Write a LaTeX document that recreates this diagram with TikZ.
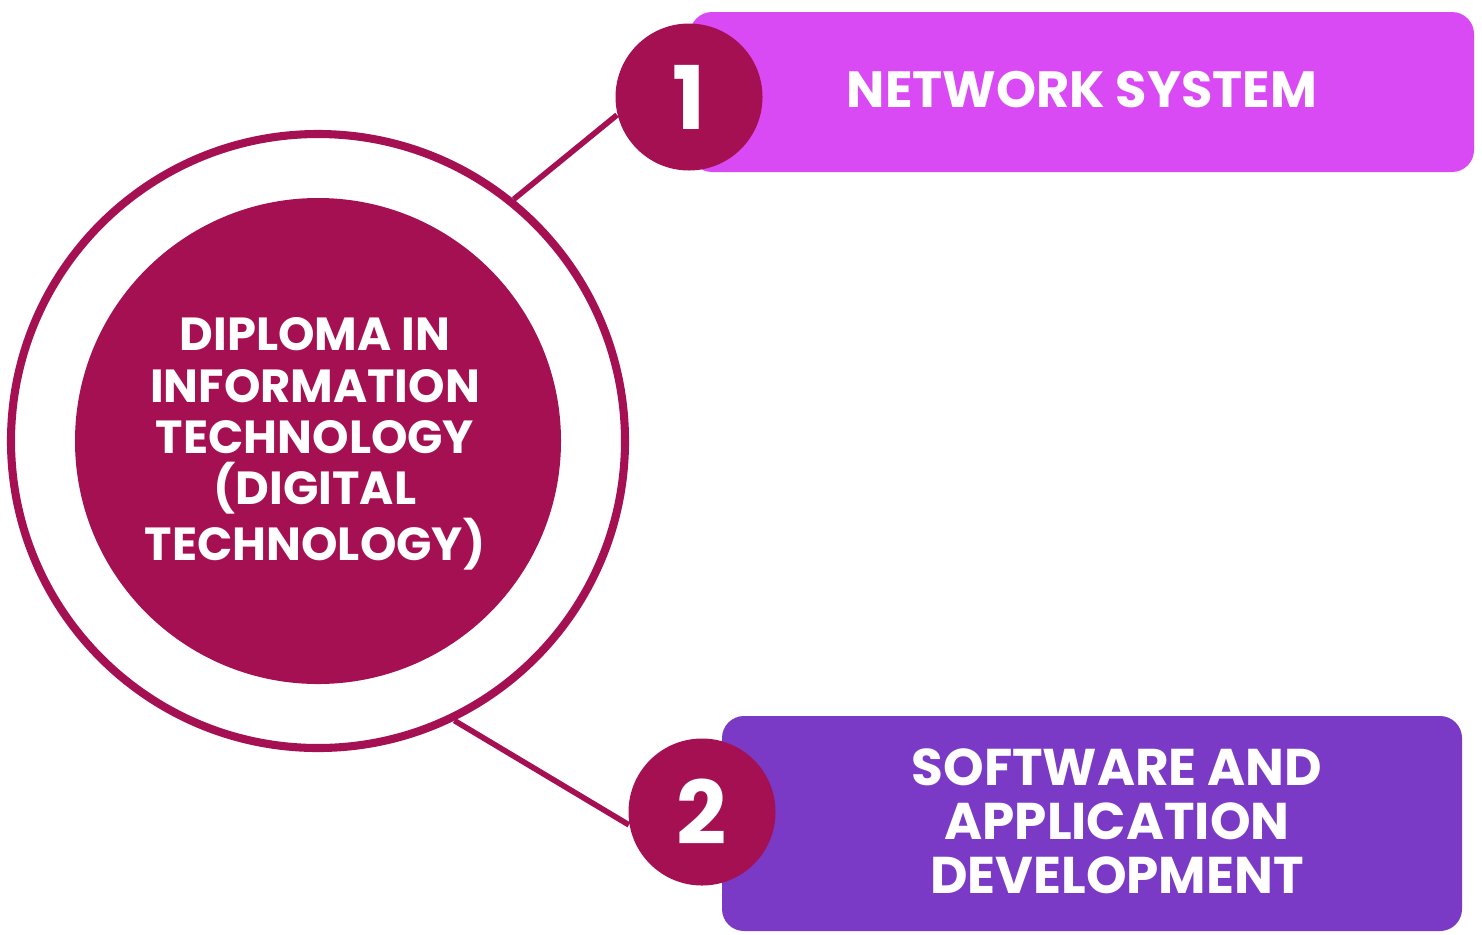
\documentclass[tikz,border=0pt]{standalone}
\usepackage{fontspec}
\setmainfont{Poppins}
\usetikzlibrary{arrows}
\definecolor{wine}{RGB}{165,16,82}
\definecolor{orchid}{RGB}{218,74,244}
\definecolor{grape}{RGB}{122,58,198}

\begin{document}
\begin{tikzpicture}[auto,
		topic/.style={rounded corners=0.22cm, inner sep=0pt, text=white, align=center},
		badge/.style={circle, fill=wine, minimum size=1.47cm, inner sep=0pt, text=white, font=\bfseries\fontsize{25}{25}\selectfont}]
				\useasboundingbox (0,0) rectangle (14.82,9.34);
				\node[circle, draw=wine, line width=2.3pt, minimum size=6.14cm] (ring) at (3.18, 4.93) {};
				\node[circle, fill=wine, minimum size=4.86cm, text=white, align=center,
					font=\bfseries\fontsize{13.2}{14.6}\selectfont] (dip) at (3.18, 4.93) {};
				\node[text=white, align=center, font=\bfseries\fontsize{13.2}{14.6}\selectfont] (diptxt) at (3.15, 4.90)
					{DIPLOMA IN\\INFORMATION\\TECHNOLOGY\\(DIGITAL\\TECHNOLOGY)};
				\node[topic, fill=orchid, minimum width=7.84cm, minimum height=1.60cm] (net) at (10.82, 8.42) {};
				\node[topic, fill=grape, minimum width=7.40cm, minimum height=2.15cm] (soft) at (10.92, 1.105) {};
				\node[text=white, font=\bfseries\fontsize{14.5}{16}\selectfont] (nettxt) at (10.82, 8.44) {NETWORK SYSTEM};
				\node[text=white, align=center, font=\bfseries\fontsize{14.7}{15.4}\selectfont] (softtxt) at (11.17, 1.13) {SOFTWARE AND\\APPLICATION\\DEVELOPMENT};
				\node[badge] (one) at (6.89, 8.37) {1};
				\node[badge] (two) at (7.02, 1.22) {2};
				\draw[wine, line width=1.6pt] (ring.51) to (one.194);
				\draw[wine, line width=1.6pt] (ring.-64) to (two.190);
			\end{tikzpicture}
\end{document}
